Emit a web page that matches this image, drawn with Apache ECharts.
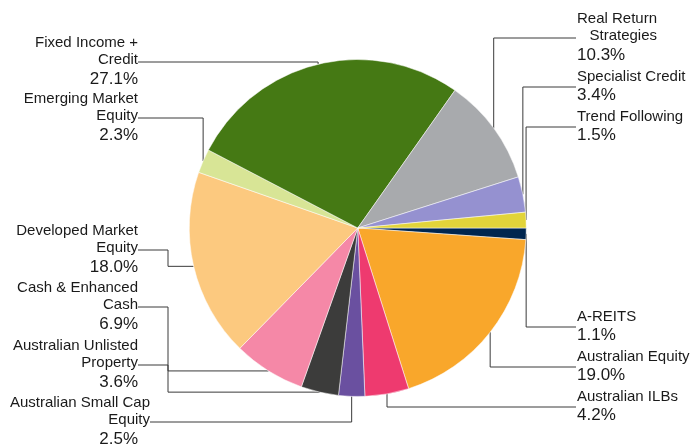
<!DOCTYPE html>
<html><head><meta charset="utf-8">
<script src="https://cdn.jsdelivr.net/npm/echarts@6/dist/echarts.min.js"></script>
<style>html,body{margin:0;padding:0;background:#fff}#c{width:690px;height:448px}</style>
</head><body><div id="c"></div>
<script>
// ---- data ----
const categories = ['A-REITS','Australian Equity','Australian ILBs','Australian Small Cap Equity','Australian Unlisted Property','Cash & Enhanced Cash','Developed Market Equity','Emerging Market Equity','Fixed Income + Credit','Real Return Strategies','Specialist Credit','Trend Following'];
const values = [1.1, 19.0, 4.2, 2.5, 3.6, 6.9, 18.0, 2.3, 27.1, 10.3, 3.4, 1.5];

// ---- styles ----
const palette = ['#00264f','#f9a72b','#ee3a6f','#6a50a0','#3c3c3b','#f588a7','#fcc97f','#d8e596','#457914','#a8aaad','#9591d0','#e2d43a'];
const FONT = '"Liberation Sans", Arial, sans-serif';
const TEXT = '#1a1a1a';

// ---- layout ----
const CX = 357.75, CY = 228, R = 168.5, START = 0;
const LEFT_X = 138, RIGHT_X = 577, ELBOW = 30;
const labelSlotY = {
  'A-REITS': 327, 'Australian Equity': 367, 'Australian ILBs': 407,
  'Australian Small Cap Equity': 422, 'Australian Unlisted Property': 365,
  'Cash & Enhanced Cash': 307, 'Developed Market Equity': 250,
  'Emerging Market Equity': 118, 'Fixed Income + Credit': 62,
  'Real Return Strategies': 38, 'Specialist Credit': 87, 'Trend Following': 127
};
const labelOverflow = {'Australian Small Cap Equity': 12};

const total = values.reduce((a, b) => a + b, 0);
function midAngle(i) {
  let s = 0; for (let k = 0; k < i; k++) s += values[k];
  return (START + (s + values[i] / 2) / total * 360) * Math.PI / 180;
}
function side(i) { return Math.cos(midAngle(i)) >= 0 ? 'right' : 'left'; }
function wrap(name) {
  if (name.length <= 17) return [name];
  const cut = name.lastIndexOf(' ', 20);
  return [name.slice(0, cut), name.slice(cut + 1)];
}

const chart = echarts.init(document.getElementById('c'), null, {renderer: 'canvas'});
chart.setOption({
  animation: false,
  backgroundColor: '#fff',
  series: [{
    type: 'pie',
    center: [CX, CY],
    radius: R,
    startAngle: START,
    clockwise: true,
    avoidLabelOverlap: false,
    emphasis: {disabled: true},
    itemStyle: {borderColor: '#ffffff', borderWidth: 0.5},
    data: categories.map((n, i) => ({name: n, value: values[i], itemStyle: {color: palette[i]}})),
    label: {
      show: true,
      position: 'outside',
      fontFamily: FONT,
      color: TEXT,
      formatter: p => {
        const i = p.dataIndex, sd = side(i);
        const lines = wrap(p.name).map(t => '{n|' + t + '}');
        const vkey = labelOverflow[p.name] ? 'vp' : (sd === 'left' ? 'vr' : 'vl');
        return lines.join('\n') + '\n{' + vkey + '|' + values[i].toFixed(1) + '%}';
      },
      rich: {
        n: {fontFamily: FONT, fontSize: 15, lineHeight: 17, color: TEXT, align: 'right'},
        vr: {fontFamily: FONT, fontSize: 17, lineHeight: 21, color: TEXT, align: 'right'},
        vl: {fontFamily: FONT, fontSize: 17, lineHeight: 21, color: TEXT, align: 'left'},
        vp: {fontFamily: FONT, fontSize: 17, lineHeight: 21, color: TEXT, align: 'right', padding: [0, 12, 0, 0]}
      }
    },
    labelLine: {show: true, length: 10, length2: 10, lineStyle: {color: '#3a3a3a', width: 1}}
  }]
});
chart.setOption({
  series: [{
    labelLayout: p => {
      const i = p.dataIndex, name = categories[i], sd = side(i);
      const a = midAngle(i);
      let ax, ay;
      if (p.labelLinePoints && p.labelLinePoints[0]) { ax = p.labelLinePoints[0][0]; ay = p.labelLinePoints[0][1]; }
      else { ax = CX + R * Math.cos(a); ay = CY + R * Math.sin(a); }
      const ty = labelSlotY[name];
      const lx = sd === 'left' ? LEFT_X + (labelOverflow[name] || 0) : RIGHT_X;
      const lineEnd = sd === 'left' ? lx : lx - 1;
      const toward = (ay > CY && ty < ay) || (ay < CY && ty > ay);
      let pts;
      if (toward) {
        const ex = sd === 'left' ? lx + ELBOW : lx - ELBOW;
        pts = [[ax, ay], [ex, ay], [ex, ty], [lineEnd, ty]];
      } else {
        pts = [[ax, ay], [ax, ty], [lineEnd, ty]];
      }
      return {x: lx, y: ty, align: sd === 'left' ? 'right' : 'left', verticalAlign: 'middle', labelLinePoints: pts};
    }
  }]
});
</script>
</body></html>
